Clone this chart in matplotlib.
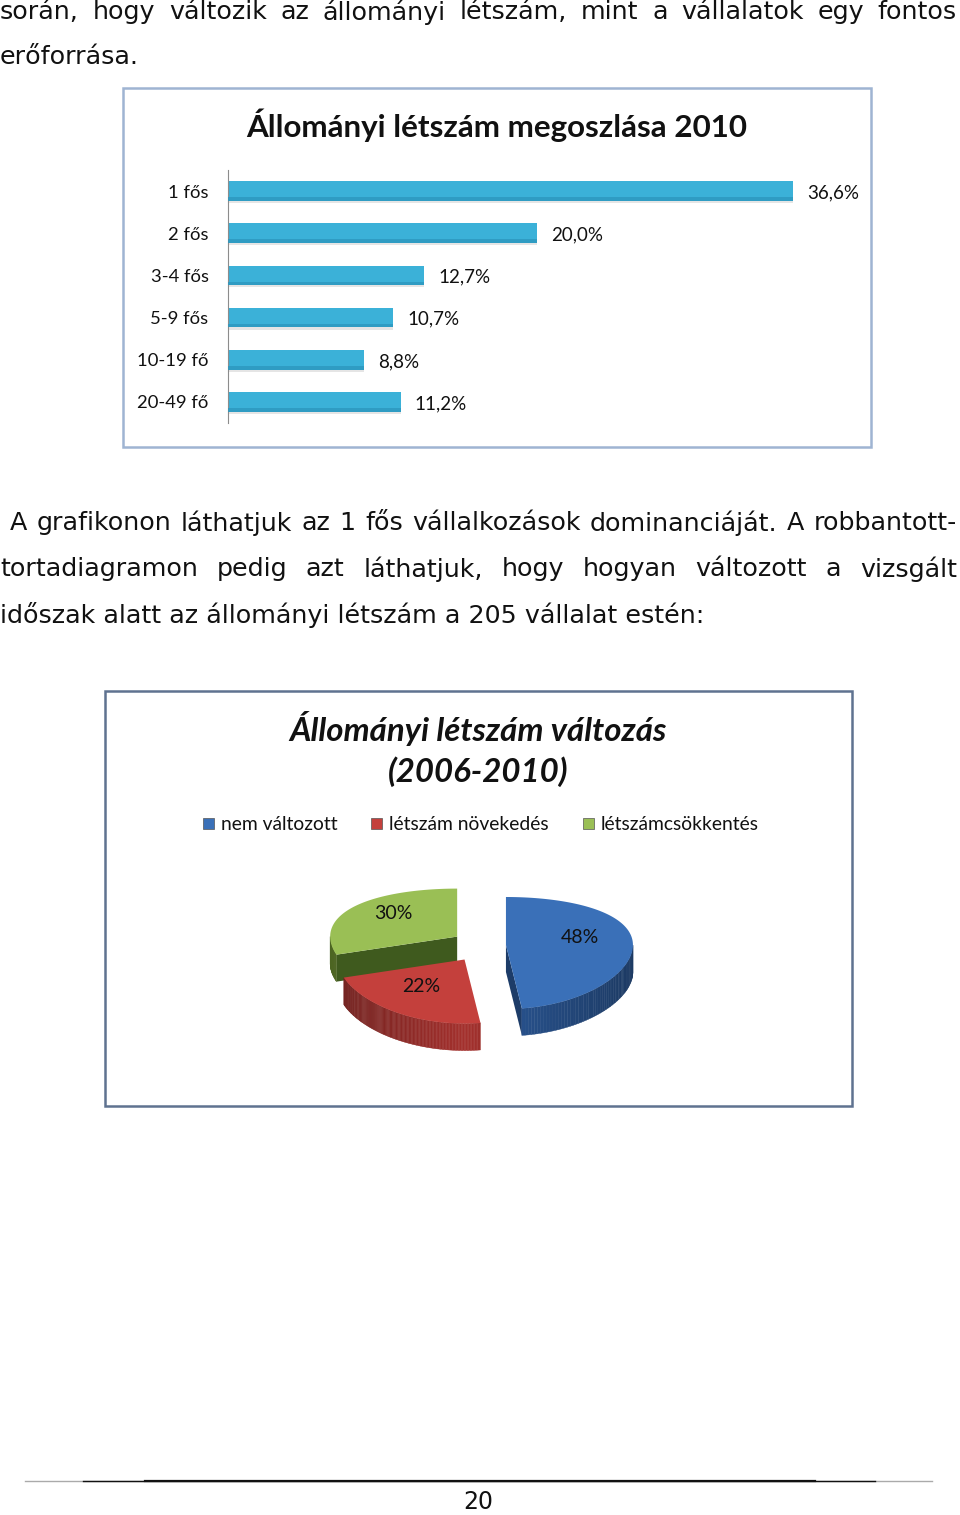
import matplotlib
matplotlib.use("Agg")
import matplotlib.pyplot as plt
from matplotlib.patches import Rectangle, Polygon
import numpy as np

plt.rcParams["font.family"] = ["Lato", "DejaVu Sans"]

# --- adatok ---
categories = ["1 fős", "2 fős", "3-4 fős", "5-9 fős", "10-19 fő", "20-49 fő"]
shares = [36.6, 20.0, 12.7, 10.7, 8.8, 11.2]
share_labels = ["36,6%", "20,0%", "12,7%", "10,7%", "8,8%", "11,2%"]

pie_names = ["nem változott", "létszám növekedés", "létszámcsökkentés"]
pie_values = [48, 22, 30]
pie_labels = ["48%", "22%", "30%"]

bar_title = "Állományi létszám megoszlása 2010"
pie_title = "Állományi létszám változás\n(2006-2010)"

para1 = ["során, hogy változik az állományi létszám, mint a vállalatok egy fontos",
         "erőforrása."]
para2 = ["A grafikonon láthatjuk az 1 fős vállalkozások dominanciáját. A robbantott-",
         "tortadiagramon pedig azt láthatjuk, hogy hogyan változott a vizsgált",
         "időszak alatt az állományi létszám a 205 vállalat estén:"]
page_no = "20"

# --- színek ---
BAR_COL = "#3BB1D8"
BAR_DARK = "#2C97BE"
PIE_TOP = ["#3A70B8", "#C4403C", "#9ABF55"]
PIE_WALL = ["#23487C", "#8E2A27", "#5F7D2A"]
PIE_FACE = ["#1D3C68", "#7A211F", "#3F5A1E"]

W, H = 960, 1515
fig = plt.figure(figsize=(W / 100, H / 100), dpi=100)
page = fig.add_axes([0, 0, 1, 1])
page.set_xlim(0, W)
page.set_ylim(H, 0)
page.axis("off")
renderer = fig.canvas.get_renderer()

BODY = dict(family=["DejaVu Sans"], fontsize=18.3, color="#111111", va="center")


def justify(words_line, x0, x1, y):
    words = words_line.split()
    texts = [page.text(0, y, w, ha="left", **BODY) for w in words]
    widths = [t.get_window_extent(renderer).width for t in texts]
    gap = (x1 - x0 - sum(widths)) / (len(words) - 1)
    x = x0
    for t, w in zip(texts, widths):
        t.set_x(x)
        x += w + gap


# szöveg
justify(para1[0], 0, 957, 12)
page.text(0, 57, para1[1], ha="left", **BODY)
justify(para2[0], 10, 957, 523)
justify(para2[1], 0, 957, 569)
page.text(0, 615, para2[2], ha="left", **BODY)

# keretek
page.add_patch(Rectangle((123, 88), 748, 359, fill=False, ec="#9FB4D2", lw=1.8))
page.add_patch(Rectangle((105, 691), 747, 415, fill=False, ec="#5F7290", lw=1.8))

# ===== oszlopdiagram =====
px_per_pct = 15.44
ax = fig.add_axes([228 / W, 1 - 423 / H, 40 * px_per_pct / W, 253 / H])
y = np.arange(len(categories))
ax.barh(y + 0.05, shares, height=0.47, color="#000000", alpha=0.10, zorder=1)
ax.barh(y, shares, height=0.47, color=BAR_COL, zorder=2)
ax.barh(y + 0.19, shares, height=0.09, color=BAR_DARK, alpha=0.8, zorder=3)
for yi, v, lab in zip(y, shares, share_labels):
    ax.text(v + 14 / px_per_pct, yi + 0.04, lab, ha="left", va="center",
            fontsize=13.5, color="#111111")
ax.set_xlim(0, 40)
ax.set_ylim(5.5, -0.5)
ax.set_yticks(y)
ax.set_yticklabels(categories, fontsize=13.3, color="#111111")
ax.set_xticks([])
ax.tick_params(axis="y", length=0, pad=14)
for s in ["top", "right", "bottom"]:
    ax.spines[s].set_visible(False)
ax.spines["left"].set_color("#8C8C8C")
ax.patch.set_alpha(0)
page.text(497, 125, bar_title, ha="center", va="center", fontsize=22.6,
          fontweight="bold", color="#111111")

# ===== robbantott tortadiagram =====
page.text(478, 749, pie_title, ha="center", va="center", fontsize=23.8,
          fontweight="bold", style="italic", color="#111111", linespacing=1.4)

leg_x = [203, 371, 583]
for lx, name, col in zip(leg_x, pie_names, PIE_TOP):
    page.add_patch(Rectangle((lx, 818), 11, 11, fc=col, ec="#555555", lw=0.5))
    page.text(lx + 18, 824, name, ha="left", va="center", fontsize=13.9,
              color="#111111")

CX, CY = 479, 946
RX, RY, PA, DEPTH = 127, 56, 8, 27
EXPX, EXPY = 27, 16


def pt(cx, cy, t, r=1.0):
    u = np.cos(np.radians(t))
    v = -np.sin(np.radians(t))
    return cx + RX * r * u, cy + RY * r * v + PA * v * v * r


def shade(hexcol, f):
    c = np.array(matplotlib.colors.to_rgb(hexcol))
    return np.clip(c * f, 0, 1)


slices = []
start = 90.0
for i, val in enumerate(pie_values):
    sweep = val / sum(pie_values) * 360
    t2 = start
    t1 = start - sweep
    start = t1
    mid = (t1 + t2) / 2
    cx = CX + EXPX * np.cos(np.radians(mid))
    cy = CY - EXPY * np.sin(np.radians(mid))
    slices.append(dict(cx=cx, cy=cy, t1=t1, t2=t2, mid=mid, i=i))

# rajzolási sorrend: hátsó (zöld), kék, piros
for s in [slices[2], slices[0], slices[1]]:
    cx, cy, t1, t2, i = s["cx"], s["cy"], s["t1"], s["t2"], s["i"]
    # sugár-irányú lapok
    for te, nrm in [(t1, t1 - 90), (t2, t2 + 90)]:
        if -np.sin(np.radians(nrm)) > 0.05:
            x1, y1 = pt(cx, cy, te)
            page.add_patch(Polygon([(cx, cy), (x1, y1), (x1, y1 + DEPTH),
                                    (cx, cy + DEPTH)], closed=True,
                                   fc=PIE_FACE[i], ec="none", zorder=2))
    # külső fal
    ts = np.linspace(t1, t2, 120)
    for a, b in zip(ts[:-1], ts[1:]):
        if np.sin(np.radians((a + b) / 2)) < 0:
            xa, ya = pt(cx, cy, a)
            xb, yb = pt(cx, cy, b)
            f = 0.8 + 0.35 * (1 - abs(np.cos(np.radians((a + b) / 2))))
            page.add_patch(Polygon([(xa, ya), (xb, yb), (xb, yb + DEPTH),
                                    (xa, ya + DEPTH)], closed=True,
                                   fc=shade(PIE_WALL[i], f),
                                   ec=shade(PIE_WALL[i], f), lw=0.3, zorder=2))
    # felső lap
    arc = [pt(cx, cy, t) for t in ts]
    page.add_patch(Polygon([(cx, cy)] + arc, closed=True, fc=PIE_TOP[i],
                           ec="none", zorder=3))
    lx, ly = pt(cx, cy, s["mid"], r=0.6)
    page.text(lx - 2, ly - 5, pie_labels[i], ha="center", va="center",
              fontsize=14, color="#111111", zorder=4)

# lábléc
page.plot([25, 932], [1481, 1481], color="#AAAAAA", lw=1)
page.plot([83, 875], [1481, 1481], color="#111111", lw=1)
page.plot([145, 815], [1481, 1481], color="#111111", lw=1.6)
page.text(478, 1502, page_no, ha="center", va="center", fontsize=17,
          family=["DejaVu Sans"], color="#111111")

fig.savefig("out.png", dpi=100)
